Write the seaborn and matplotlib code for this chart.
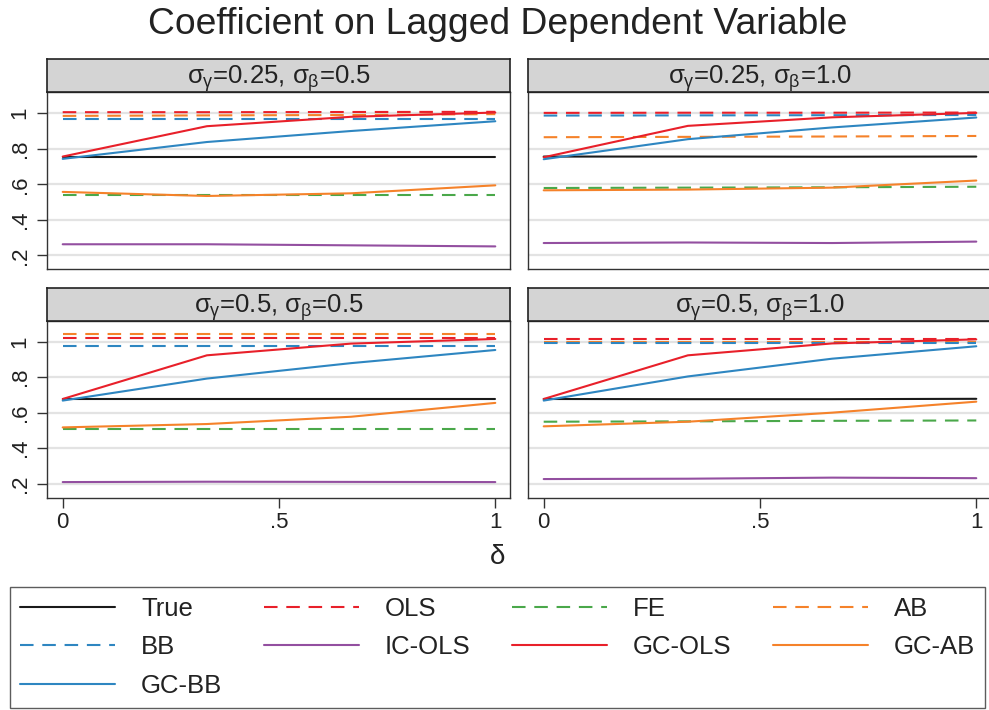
import numpy as np
import pandas as pd
import matplotlib
matplotlib.use("Agg")
import matplotlib.pyplot as plt
from matplotlib.lines import Line2D
import seaborn as sns

# ---------------- data ----------------
delta = [0.0, 1/3, 2/3, 1.0]
panel_titles = [r"$\sigma_\gamma$=0.25, $\sigma_\beta$=0.5",
                r"$\sigma_\gamma$=0.25, $\sigma_\beta$=1.0",
                r"$\sigma_\gamma$=0.5, $\sigma_\beta$=0.5",
                r"$\sigma_\gamma$=0.5, $\sigma_\beta$=1.0"]

true_vals = [[0.756, 0.756, 0.756, 0.756],
             [0.756, 0.756, 0.755, 0.756],
             [0.677, 0.677, 0.677, 0.677],
             [0.677, 0.676, 0.676, 0.678]]
ols_vals = [[1.006, 1.006, 1.007, 1.008],
            [1.002, 1.003, 1.003, 1.004],
            [1.020, 1.020, 1.020, 1.020],
            [1.015, 1.015, 1.015, 1.015]]
fe_vals = [[0.542, 0.542, 0.542, 0.542],
           [0.579, 0.581, 0.583, 0.586],
           [0.507, 0.507, 0.507, 0.507],
           [0.549, 0.551, 0.554, 0.556]]
ab_vals = [[0.985, 0.988, 0.990, 0.995],
           [0.865, 0.867, 0.869, 0.872],
           [1.043, 1.043, 1.043, 1.043],
           [0.998, 0.998, 0.998, 0.998]]
bb_vals = [[0.970, 0.970, 0.970, 0.970],
           [0.987, 0.988, 0.989, 0.990],
           [0.975, 0.975, 0.975, 0.975],
           [0.990, 0.990, 0.990, 0.990]]
ic_ols_vals = [[0.262, 0.262, 0.256, 0.250],
               [0.269, 0.272, 0.269, 0.277],
               [0.209, 0.211, 0.210, 0.209],
               [0.226, 0.228, 0.234, 0.231]]
gc_ols_vals = [[0.756, 0.927, 0.980, 1.004],
               [0.752, 0.929, 0.977, 1.002],
               [0.677, 0.923, 0.989, 1.015],
               [0.677, 0.923, 0.990, 1.013]]
gc_ab_vals = [[0.557, 0.534, 0.549, 0.594],
              [0.566, 0.570, 0.581, 0.621],
              [0.517, 0.536, 0.577, 0.655],
              [0.523, 0.549, 0.600, 0.662]]
gc_bb_vals = [[0.743, 0.838, 0.900, 0.955],
              [0.741, 0.854, 0.920, 0.976],
              [0.668, 0.792, 0.879, 0.953],
              [0.668, 0.804, 0.904, 0.974]]

series_names = ["True", "OLS", "FE", "AB", "BB", "IC-OLS", "GC-OLS", "GC-AB", "GC-BB"]
series_vals = [true_vals, ols_vals, fe_vals, ab_vals, bb_vals, ic_ols_vals,
               gc_ols_vals, gc_ab_vals, gc_bb_vals]

y_ticks = [0.2, 0.4, 0.6, 0.8, 1.0]
y_ticklabels = [".2", ".4", ".6", ".8", "1"]
x_ticks = [0, 0.5, 1]
x_ticklabels = ["0", ".5", "1"]

# ---------------- styles ----------------
RED = "#e8202a"
GREEN = "#4aa84a"
ORANGE = "#f5822a"
BLUE = "#2e86c1"
PURPLE = "#934fa0"
BLACK = "#1a1a1a"
LW = 1.5
DASH = (0, (6.5, 4.2))
styles = {
    "True": (BLACK, "-"), "OLS": (RED, DASH), "FE": (GREEN, DASH),
    "AB": (ORANGE, DASH), "BB": (BLUE, DASH), "IC-OLS": (PURPLE, "-"),
    "GC-OLS": (RED, "-"), "GC-AB": (ORANGE, "-"), "GC-BB": (BLUE, "-"),
}

rows = []
for p in range(4):
    for name, vals in zip(series_names, series_vals):
        for x, v in zip(delta, vals[p]):
            rows.append({"panel": p, "series": name, "delta": x, "value": v})
df = pd.DataFrame(rows)

sns.set_style("white")
plt.rcParams["font.family"] = ["Liberation Sans", "DejaVu Sans"]
plt.rcParams["mathtext.fontset"] = "custom"
plt.rcParams["mathtext.rm"] = "Liberation Sans"
plt.rcParams["mathtext.it"] = "Liberation Sans"
plt.rcParams["mathtext.bf"] = "Liberation Sans:bold"

W, H = 989, 710
fig = plt.figure(figsize=(W / 100, H / 100), dpi=100)

def fx(px):
    return px / W

def fy(py):
    return 1 - py / H

panel_px = [  # left, top, right, bottom in pixels
    (47.3, 92.3, 510.0, 269.3),
    (528.3, 92.3, 991.0, 269.3),
    (47.3, 320.7, 510.0, 497.7),
    (528.3, 320.7, 991.0, 497.7),
]
strip_px = [(59.0, 92.3), (59.0, 92.3), (287.5, 320.7), (287.5, 320.7)]

SPINE = "#333333"
TXT = "#222222"
for p in range(4):
    l, t, r, b = panel_px[p]
    ax = fig.add_axes([fx(l), fy(b), fx(r) - fx(l), fy(t) - fy(b)])
    ax.set_facecolor("white")
    for yv in y_ticks:
        ax.axhline(yv, color="#e3e3e3", lw=1.6, zorder=0)
    sub = df[df["panel"] == p]
    for name in series_names:
        c, ls = styles[name]
        d = sub[sub["series"] == name]
        sns.lineplot(data=d, x="delta", y="value", ax=ax, color=c,
                     linestyle=ls, lw=LW, legend=False, errorbar=None, sort=False)
    ax.set_xlim(-0.0356, 1.034)
    ax.set_ylim(0.121, 1.118)
    ax.set_xlabel("")
    ax.set_ylabel("")
    for s in ax.spines.values():
        s.set_color(SPINE)
        s.set_linewidth(1.0)
    ax.set_yticks(y_ticks)
    ax.set_xticks(x_ticks)
    if p in (0, 2):
        ax.set_yticklabels(y_ticklabels, rotation=90, va="center", fontsize=16,
                           color=TXT)
        ax.tick_params(axis="y", length=7, width=1, color=SPINE, pad=5, left=True)
    else:
        ax.tick_params(axis="y", left=False, labelleft=False)
    if p in (2, 3):
        ax.set_xticklabels(x_ticklabels, fontsize=16, color=TXT)
        ax.tick_params(axis="x", length=7, width=1, color=SPINE, pad=3, bottom=True)
    else:
        ax.tick_params(axis="x", bottom=False, labelbottom=False)

    st, sb = strip_px[p]
    sax = fig.add_axes([fx(l), fy(sb), fx(r) - fx(l), fy(st) - fy(sb)])
    sax.set_facecolor("#d4d4d4")
    sax.set_xticks([])
    sax.set_yticks([])
    for s in sax.spines.values():
        s.set_color("#222222")
        s.set_linewidth(1.2)
    sax.text(0.5 if p in (0, 2) else (510 - 47.3) / 2 / (991 - 528.3), 0.40, panel_titles[p],
             ha="center", va="center", fontsize=18.5, color=TXT,
             transform=sax.transAxes)

fig.text(fx(498), fy(24), "Coefficient on Lagged Dependent Variable",
         ha="center", va="center", fontsize=26.8, color=TXT)
fig.text(fx(497), fy(557), r"$\delta$", ha="center", va="center", fontsize=20,
         color=TXT)

# legend (column-major order so rows read True, OLS, FE, AB / BB, ...)
order = ["True", "BB", "GC-BB", "OLS", "IC-OLS", "FE", "GC-OLS", "AB", "GC-AB"]
handles = [Line2D([], [], color=styles[n][0], linestyle=styles[n][1], lw=LW) for n in order]
leg = fig.legend(handles, order, loc="upper left",
                 bbox_to_anchor=(fx(10), fy(587), fx(985) - fx(10), 0),
                 mode="expand", ncol=4, fontsize=18.5, frameon=True, fancybox=False,
                 edgecolor="#333333", handlelength=3.7, handletextpad=1.0,
                 labelspacing=0.55, borderpad=0.4, borderaxespad=0, columnspacing=2.0)
leg.get_frame().set_linewidth(1.0)
for t in leg.get_texts():
    t.set_color(TXT)

fig.savefig("out.png", dpi=100, facecolor="white")
